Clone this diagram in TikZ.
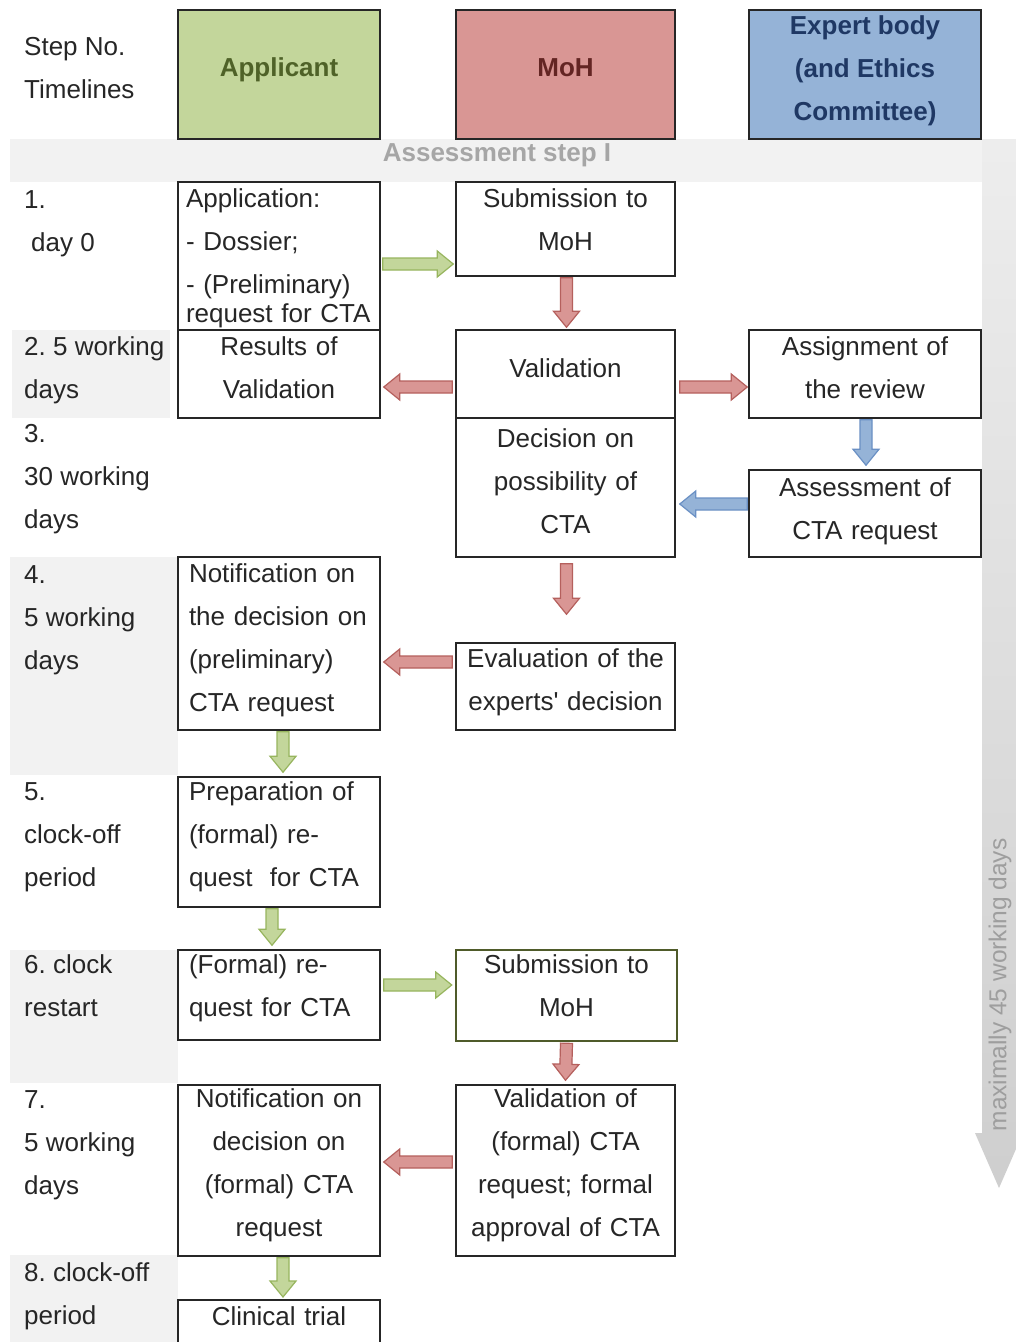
\documentclass[tikz,border=0pt]{standalone}
\usepackage{fontspec}
\setmainfont{Liberation Sans}
\frenchspacing
\usetikzlibrary{calc}
\definecolor{gfill}{HTML}{C3D69B}
\definecolor{gline}{HTML}{97B55E}
\definecolor{rfill}{HTML}{D99694}
\definecolor{rline}{HTML}{B5605D}
\definecolor{bfill}{HTML}{95B3D7}
\definecolor{bline}{HTML}{6A90C4}
\definecolor{gtext}{HTML}{4F6228}
\definecolor{rtext}{HTML}{632523}
\definecolor{btext}{HTML}{1F3864}
\definecolor{band}{HTML}{F2F2F2}
\definecolor{txt}{HTML}{262626}
\definecolor{olive}{HTML}{4F5B2A}
\tikzset{
  fat/.style={to path={let \p1=(\tikztostart), \p2=(\tikztotarget),
    \n1={atan2(\y2-\y1,\x2-\x1)}, \n2={veclen(\x2-\x1,\y2-\y1)-16} in
    ($(\p1)+(\n1+90:6pt)$) -- ($(\p1)+(\n1:\n2)+(\n1+90:6pt)$) --
    ($(\p1)+(\n1:\n2)+(\n1+90:13pt)$) -- (\p2) --
    ($(\p1)+(\n1:\n2)+(\n1-90:13pt)$) -- ($(\p1)+(\n1:\n2)+(\n1-90:6pt)$) --
    ($(\p1)+(\n1-90:6pt)$) -- cycle}},
  garrow/.style={fill=gfill, draw=gline, line width=1.2pt, line join=miter},
  rarrow/.style={fill=rfill, draw=rline, line width=1.2pt, line join=miter},
  barrow/.style={fill=bfill, draw=bline, line width=1.2pt, line join=miter},
  box/.style={draw=txt, line width=1.5pt, fill=white, inner xsep=10pt, inner ysep=0pt,
    font=\fontsize{26}{43}\selectfont, text=txt},
  appcol/.style={box, inner xsep=8pt, minimum width=202pt, text width=186pt},
  mohcol/.style={box, minimum width=219pt, text width=199pt, align=center},
  expcol/.style={box, minimum width=232pt, text width=212pt, align=center},
  head/.style={draw=txt, line width=2pt, minimum height=129pt, inner sep=0pt,
    font=\fontsize{26}{43}\selectfont\bfseries, align=center},
  lbl/.style={anchor=base west, align=left, inner sep=0pt,
    font=\fontsize{26}{43}\selectfont, text=txt},
}
\begin{document}
\begin{tikzpicture}[x=1pt,y=-1pt]
\clip (0,0) rectangle (1016,1342);
\fill[white] (0,0) rectangle (1016,1342);

% shaded bands
\fill[band] (10,139) rectangle (982,182);
\fill[band] (12,330) rectangle (170,418);
\fill[band] (10,557) rectangle (178,775);
\fill[band] (10,950) rectangle (178,1083);
\fill[band] (10,1255) rectangle (178,1342);

% big grey time arrow
\shade[top color=black!7, bottom color=black!19]
  (982,139) -- (1016,139) -- (1016,1133) -- (1023,1133) -- (999,1188)
  -- (975,1133) -- (982,1133) -- cycle;
\node[rotate=90, text=black!38, font=\fontsize{24.5}{30}\selectfont] (maxtxt)
  at (1000,985) {maximally 45 working days};

% header (base anchor = baseline of last line)
\node[lbl] (stepno) at (24,98) {Step No.\\Timelines};
\node[head, fill=gfill, text=gtext, minimum width=202pt, text depth=14pt] (hApp) at (279,74.5) {Applicant};
\node[head, fill=rfill, text=rtext, minimum width=219pt, text depth=14pt] (hMoH) at (565.5,74.5) {MoH};
\node[head, fill=bfill, text=btext, minimum width=232pt, text depth=12pt] (hExp) at (865,74.5)
  {Expert body\\(and Ethics\\Committee)};
\node[font=\fontsize{26}{30}\selectfont\bfseries, text=black!35] (assess1) at (497,155)
  {Assessment step I};

% step labels
\node[lbl] (s1) at (24,251) {1.\\\hspace*{7pt}day 0};
\node[lbl] (s2) at (24,398) {2. 5 working\\days};
\node[lbl] (s3) at (24,528) {3.\\30 working\\days};
\node[lbl] (s4) at (24,669) {4.\\5 working\\days};
\node[lbl] (s5) at (24,886) {5.\\clock-off\\period};
\node[lbl] (s6) at (24,1016) {6. clock\\restart};
\node[lbl] (s7) at (24,1194) {7.\\5 working\\days};
\node[lbl] (s8) at (24,1324) {8. clock-off\\period};

% applicant column
\node[appcol, align=left, minimum height=148pt, text depth=116pt] (app) at (279,256)
  {Application:\\- Dossier;\\- (Preliminary)\\[-14pt]request for CTA};
\node[appcol, align=center, minimum height=88pt, text depth=56pt] (res) at (279,374)
  {Results of\\Validation};
\node[appcol, align=left, minimum height=173pt, text depth=141pt] (notA) at (279,643.5)
  {\hspace*{3pt}Notification on\\\hspace*{3pt}the decision on\\\hspace*{3pt}(preliminary)\\\hspace*{3pt}CTA request};
\node[appcol, align=left, minimum height=130pt, text depth=102pt] (prep) at (279,842)
  {\hspace*{3pt}Preparation of\\\hspace*{3pt}(formal) re-\\\hspace*{3pt}quest~ for CTA};
\node[appcol, align=left, minimum height=90pt, text depth=62pt] (formal) at (279,995)
  {\hspace*{3pt}(Formal) re-\\\hspace*{3pt}quest for CTA};
\node[appcol, align=center, minimum height=171pt, text depth=144pt] (notB) at (279,1170.5)
  {Notification on\\decision on\\(formal) CTA\\request};
\node[appcol, align=center, anchor=north, inner ysep=6pt, text height=20pt, text depth=40pt]
  (clin) at (279,1299) {Clinical trial};

% MoH column
\node[mohcol, minimum height=94pt, text depth=62pt] (sub1) at (565.5,229) {Submission to\\MoH};
\node[mohcol, minimum height=88pt, text depth=12pt] (val) at (565.5,374) {Validation};
\node[mohcol, minimum height=139pt, text depth=99pt] (dec) at (565.5,487.5)
  {Decision on\\possibility of\\CTA};
\node[mohcol, minimum height=87pt, text depth=57pt] (eval) at (565.5,686.5)
  {Evaluation of the\\experts\textquotesingle\ decision};
\node[mohcol, minimum height=91pt, minimum width=221pt, draw=olive, line width=2.5pt, text depth=63pt]
  (sub2) at (566.5,995.5) {Submission to\\MoH};
\node[mohcol, minimum height=171pt, text depth=144pt] (valf) at (565.5,1170.5)
  {Validation of\\(formal) CTA\\request; formal\\approval of CTA};

% expert column
\node[expcol, minimum height=88pt, text depth=56pt] (assign) at (865,374) {Assignment of\\the review};
\node[expcol, minimum height=87pt, text depth=53pt] (assess) at (865,513.5) {Assessment of\\CTA request};

% connectors
\draw[garrow] ($(app.east |- 0,264)+(2,0)$) to[fat] ($(sub1.west |- 0,264)+(-2,0)$);
\draw[rarrow] ($(sub1.south)+(1,1)$) to[fat] ($(val.north)+(1,-2)$);
\draw[rarrow] ($(val.west |- 0,387)+(-3,0)$) to[fat] ($(res.east |- 0,387)+(3,0)$);
\draw[rarrow] ($(val.east |- 0,387)+(4,0)$) to[fat] ($(assign.west |- 0,387)+(-1,0)$);
\draw[barrow] ($(assign.south)+(1,1)$) to[fat] ($(assess.north)+(1,-4)$);
\draw[barrow] ($(assess.west |- 0,504)+(-1,0)$) to[fat] ($(dec.east |- 0,504)+(4,0)$);
\draw[rarrow] ($(dec.south)+(1,6)$) to[fat] ($(eval.north)+(1,-28)$);
\draw[rarrow] ($(eval.west |- 0,662)+(-3,0)$) to[fat] ($(notA.east |- 0,662)+(3,0)$);
\draw[garrow] ($(notA.south)+(4,1)$) to[fat] ($(prep.north)+(4,-4)$);
\draw[garrow] ($(prep.south)+(-7,1)$) to[fat] ($(formal.north)+(-7,-4)$);
\draw[garrow] ($(formal.east |- 0,985)+(3,0)$) to[fat] ($(sub2.west |- 0,985)+(-3,0)$);
\draw[rarrow] ($(sub2.south)+(0,1)$) to[fat] ($(valf.north)+(0,-4)$);
\draw[rarrow] ($(valf.west |- 0,1162)+(-3,0)$) to[fat] ($(notB.east |- 0,1162)+(3,0)$);
\draw[garrow] ($(notB.south)+(4,1)$) to[fat] ($(clin.north)+(4,-2)$);
\end{tikzpicture}
\end{document}
